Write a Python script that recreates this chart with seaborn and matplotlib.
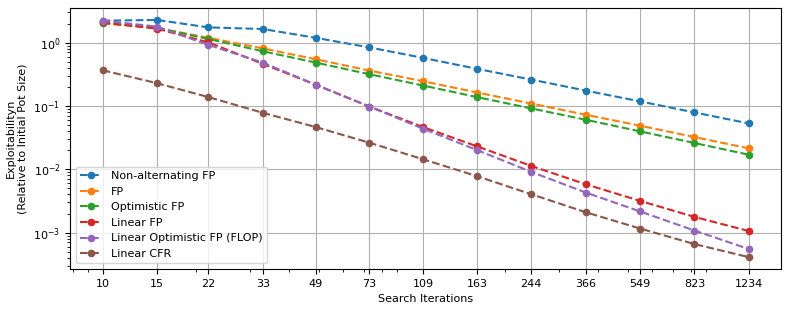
import matplotlib
matplotlib.use('Agg')
import matplotlib.pyplot as plt
import matplotlib.ticker as mticker
import seaborn as sns
import pandas as pd

# search iterations (x) and exploitability per method
iters = [10, 15, 22, 33, 49, 73, 109, 163, 244, 366, 549, 823, 1234]

non_alt_fp = [2.22, 2.28, 1.74, 1.64, 1.19, 0.84, 0.574, 0.385, 0.261, 0.175, 0.118, 0.079, 0.053]
fp = [2.01, 1.70, 1.19, 0.81, 0.546, 0.362, 0.246, 0.163, 0.109, 0.0727, 0.0488, 0.0323, 0.0214]
optimistic_fp = [2.05, 1.72, 1.14, 0.73, 0.484, 0.317, 0.21, 0.138, 0.0914, 0.0606, 0.0397, 0.026, 0.017]
linear_fp = [2.08, 1.66, 1.01, 0.462, 0.216, 0.098, 0.0464, 0.023, 0.0113, 0.0058, 0.00317, 0.00177, 0.00106]
linear_flop = [2.22, 1.79, 0.92, 0.484, 0.216, 0.098, 0.0437, 0.0201, 0.0091, 0.0043, 0.00216, 0.00108, 0.00055]
linear_cfr = [0.366, 0.229, 0.138, 0.078, 0.0464, 0.0263, 0.0144, 0.00777, 0.00404, 0.0021, 0.00116, 0.00066, 0.00041]

methods = ['Non-alternating FP', 'FP', 'Optimistic FP', 'Linear FP',
           'Linear Optimistic FP (FLOP)', 'Linear CFR']
series = [non_alt_fp, fp, optimistic_fp, linear_fp, linear_flop, linear_cfr]

rows = []
for name, vals in zip(methods, series):
    for it, v in zip(iters, vals):
        rows.append({'iters': it, 'expl': v, 'method': name})
df = pd.DataFrame(rows)

plt.rcParams['font.size'] = 8
plt.rcParams['font.family'] = ['DejaVu Sans']

fig, ax = plt.subplots(figsize=(7.89, 3.11), dpi=100)
palette = sns.color_palette('tab10', len(methods))

for color, name in zip(palette, methods):
    sub = df[df['method'] == name]
    sns.lineplot(data=sub, x='iters', y='expl', ax=ax, color=color,
                 marker='o', markersize=5.5, markeredgewidth=0,
                 linestyle='--', linewidth=1.5, label=name)

ax.set_xscale('log')
ax.set_yscale('log')
ax.set_xticks(iters)
ax.set_xticklabels([str(i) for i in iters])
ax.xaxis.set_minor_formatter(mticker.NullFormatter())
ax.grid(True, which='major', color='#b0b0b0', linewidth=0.8)
ax.set_axisbelow(True)

ax.set_xlabel('Search Iterations')
ax.set_ylabel('Exploitabilityn\n(Relative to Initial Pot Size)')
ax.legend(loc='lower left')

fig.subplots_adjust(left=0.089, right=0.99, top=0.974, bottom=0.135)
fig.savefig('out.png', dpi=100)
